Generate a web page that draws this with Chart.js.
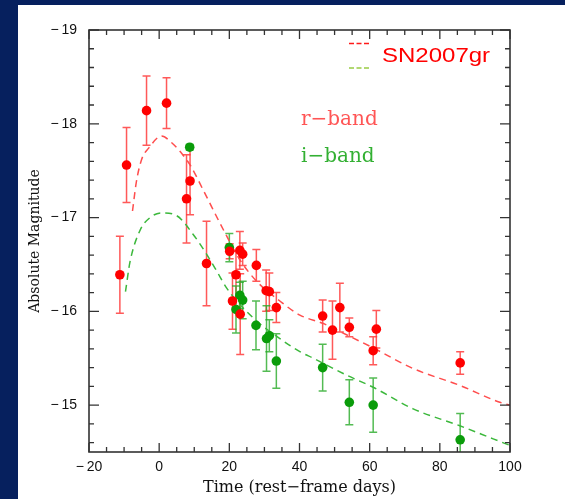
<!DOCTYPE html>
<html>
<head>
<meta charset="utf-8">
<script src="https://cdn.jsdelivr.net/npm/chart.js@4.4.1/dist/chart.umd.min.js"></script>
<style>
  html, body { margin: 0; padding: 0; background: #06205e; overflow: hidden; }
  #panel { position: absolute; left: 18px; top: 5px; right: 0; bottom: 0; background: #fff; }
  #wrap { position: absolute; left: 0; top: 0; width: 565px; height: 499px; }
</style>
</head>
<body>
<div id="panel"></div>
<div id="wrap"><canvas id="lcChart" width="565" height="499"></canvas></div>
<script>
// SN2007gr light curve
const rDays = [-11.2, -9.3, -3.6, 2.1, 7.8, 8.8, 13.5, 20.1, 20.9, 21.9, 23.0, 23.1, 23.8, 27.7, 30.5, 31.4, 33.4, 46.6, 49.4, 51.5, 54.2, 61.0, 61.9, 85.8];
const rMag  = [-16.39, -17.56, -18.14, -18.22, -17.20, -17.39, -16.51, -16.64, -16.11, -16.39, -16.65, -15.97, -16.61, -16.49, -16.22, -16.21, -16.04, -15.95, -15.80, -16.04, -15.83, -15.58, -15.81, -15.45];
const rErr  = [0.41, 0.40, 0.37, 0.27, 0.47, 0.36, 0.45, 0.08, 0.30, 0.25, 0.20, 0.43, 0.12, 0.17, 0.22, 0.20, 0.16, 0.17, 0.31, 0.26, 0.10, 0.15, 0.20, 0.12];

const iDays = [8.7, 20.0, 21.9, 23.0, 23.8, 27.6, 30.6, 31.4, 33.4, 46.6, 54.2, 61.0, 85.8];
const iMag  = [-17.75, -16.68, -16.02, -16.17, -16.12, -15.85, -15.71, -15.74, -15.47, -15.40, -15.03, -15.00, -14.63];
const iErr  = [0.03, 0.15, 0.25, 0.14, 0.20, 0.26, 0.35, 0.17, 0.29, 0.25, 0.24, 0.29, 0.28];

// SN2007gr template curves (dashed)
const rModelDays = [-7.6, -6.5, -5.0, -3.0, 0.7, 3.5, 6.5, 9.0, 12.6, 18.3, 23.0, 27.8, 34.4, 40.1, 46.8, 53.4, 61.0, 72.4, 85.7, 97.1, 100];
const rModelMag  = [-17.07, -17.38, -17.62, -17.74, -17.87, -17.80, -17.68, -17.55, -17.29, -16.87, -16.55, -16.32, -16.11, -15.96, -15.87, -15.75, -15.61, -15.39, -15.21, -15.03, -15.00];
const iModelDays = [-9.6, -8.3, -5.5, -2.6, 0.7, 5.0, 9.7, 13.5, 16.4, 19.2, 26.8, 34.4, 40.1, 43.9, 53.4, 61.0, 72.4, 85.7, 95.2, 100];
const iModelMag  = [-16.21, -16.53, -16.86, -17.00, -17.05, -17.02, -16.82, -16.61, -16.43, -16.25, -15.93, -15.71, -15.57, -15.50, -15.32, -15.19, -14.96, -14.78, -14.64, -14.57];

const xMajorTicks = [-20, 0, 20, 40, 60, 80, 100];
const yMajorTicks = [-19, -18, -17, -16, -15];
const xMinorStep = 5;
const yMinorStep = 0.2;

const pts = (xs, ys) => xs.map((x, i) => ({ x: x, y: ys[i] }));
const minus = v => (v < 0 ? '\u2212\u2009' + Math.abs(v) : String(v));

function drawErrorBars(ctx, chart, days, mags, errs, color) {
    const x = chart.scales.x, y = chart.scales.y;
    ctx.strokeStyle = color;
    ctx.lineWidth = 1.5;
    days.forEach((d, i) => {
        const px = x.getPixelForValue(d);
        const y1 = y.getPixelForValue(mags[i] - errs[i]);
        const y2 = y.getPixelForValue(mags[i] + errs[i]);
        ctx.beginPath();
        ctx.moveTo(px, y1); ctx.lineTo(px, y2);
        ctx.moveTo(px - 4, y1); ctx.lineTo(px + 4, y1);
        ctx.moveTo(px - 4, y2); ctx.lineTo(px + 4, y2);
        ctx.stroke();
    });
}

const smPlot = {
    id: 'smPlot',
    beforeDatasetsDraw(chart) {
        const { ctx, chartArea: a } = chart;
        ctx.save();
        ctx.beginPath();
        ctx.rect(a.left, a.top, a.right - a.left, a.bottom - a.top);
        ctx.clip();
        drawErrorBars(ctx, chart, rDays, rMag, rErr, 'rgba(255, 60, 60, 0.85)');
        drawErrorBars(ctx, chart, iDays, iMag, iErr, 'rgba(40, 170, 40, 0.8)');
        ctx.restore();
    },
    afterDatasetsDraw(chart) {
        const { ctx, chartArea: a, scales: { x, y } } = chart;
        ctx.save();
        ctx.strokeStyle = '#333';
        ctx.lineWidth = 1.3;
        ctx.beginPath();
        // inward ticks on all four sides
        for (let v = x.min; v <= x.max + 1e-6; v += xMinorStep) {
            const px = x.getPixelForValue(v);
            const len = xMajorTicks.includes(Math.round(v)) ? 9 : 5;
            ctx.moveTo(px, a.bottom); ctx.lineTo(px, a.bottom - len);
            ctx.moveTo(px, a.top); ctx.lineTo(px, a.top + len);
        }
        for (let v = -19; v <= y.max + 1e-6; v += yMinorStep) {
            const py = y.getPixelForValue(v);
            const major = Math.abs(v - Math.round(v)) < 1e-6;
            const len = major ? 10 : 5;
            ctx.moveTo(a.left, py); ctx.lineTo(a.left + len, py);
            ctx.moveTo(a.right, py); ctx.lineTo(a.right - len, py);
        }
        ctx.stroke();
        ctx.lineWidth = 1.6;
        ctx.strokeRect(a.left, a.top, a.right - a.left, a.bottom - a.top);
        ctx.restore();
    },
    afterDraw(chart) {
        const ctx = chart.ctx;
        ctx.save();
        // legend dashes
        ctx.lineWidth = 1.5;
        ctx.setLineDash([5, 2.5]);
        ctx.strokeStyle = '#ff1a1a';
        ctx.beginPath(); ctx.moveTo(349, 43.5); ctx.lineTo(370, 43.5); ctx.stroke();
        ctx.strokeStyle = '#99cc44';
        ctx.beginPath(); ctx.moveTo(349, 68); ctx.lineTo(370, 68); ctx.stroke();
        ctx.setLineDash([]);
        // SN name
        ctx.fillStyle = '#ff0000';
        ctx.font = '20px "Liberation Sans", Arial, sans-serif';
        ctx.textBaseline = 'alphabetic';
        ctx.save();
        ctx.translate(382, 62);
        ctx.scale(1.2, 1);
        ctx.fillText('SN2007gr', 0, 0);
        ctx.restore();
        // band labels
        ctx.font = '20px "DejaVu Serif", serif';
        ctx.fillStyle = '#ff5555';
        ctx.fillText('r\u2212band', 301, 125);
        ctx.fillStyle = '#33b033';
        ctx.fillText('i\u2212band', 301, 162);
        ctx.restore();
    }
};

new Chart(document.getElementById('lcChart'), {
    type: 'scatter',
    data: {
        datasets: [
            {
                label: 'r-band',
                data: pts(rDays, rMag),
                backgroundColor: '#ff0000',
                borderWidth: 0,
                pointRadius: 4.8
            },
            {
                label: 'i-band',
                data: pts(iDays, iMag),
                backgroundColor: '#0a9c0a',
                borderWidth: 0,
                pointRadius: 4.8
            },
            {
                label: 'SN2007gr r',
                data: pts(rModelDays, rModelMag),
                showLine: true,
                borderColor: '#ff4d4d',
                borderWidth: 1.5,
                borderDash: [7, 5],
                cubicInterpolationMode: 'monotone',
                pointRadius: 0
            },
            {
                label: 'SN2007gr i',
                data: pts(iModelDays, iModelMag),
                showLine: true,
                borderColor: '#3cb83c',
                borderWidth: 1.5,
                borderDash: [7, 5],
                cubicInterpolationMode: 'monotone',
                pointRadius: 0
            }
        ]
    },
    options: {
        responsive: false,
        animation: false,
        layout: { padding: { top: 30, right: 55, left: 0, bottom: 0 } },
        plugins: {
            legend: { display: false },
            tooltip: { enabled: false }
        },
        scales: {
            x: {
                type: 'linear',
                min: -20,
                max: 100,
                grid: { display: false, drawTicks: false },
                border: { display: false },
                afterBuildTicks: s => { s.ticks = xMajorTicks.map(v => ({ value: v })); },
                afterFit: s => { s.height = 47; },
                ticks: {
                    padding: 7,
                    color: '#111',
                    font: { family: '"Liberation Sans", Arial, sans-serif', size: 14 },
                    callback: v => minus(v)
                },
                title: {
                    display: true,
                    text: 'Time (rest\u2212frame days)',
                    color: '#111',
                    font: { family: '"DejaVu Serif", serif', size: 16 },
                    padding: { top: 0, bottom: 2 }
                }
            },
            y: {
                type: 'linear',
                reverse: true,
                min: -19,
                max: -14.5,
                grid: { display: false, drawTicks: false },
                border: { display: false },
                afterBuildTicks: s => { s.ticks = yMajorTicks.map(v => ({ value: v })); },
                afterFit: s => { s.width = 89; },
                ticks: {
                    padding: 12,
                    color: '#111',
                    font: { family: '"Liberation Sans", Arial, sans-serif', size: 14 },
                    callback: v => minus(v)
                },
                title: {
                    display: true,
                    text: 'Absolute Magnitude',
                    color: '#111',
                    font: { family: '"DejaVu Serif", serif', size: 14 },
                    padding: { top: 27, bottom: 0 }
                }
            }
        }
    },
    plugins: [smPlot]
});
</script>
</body>
</html>
